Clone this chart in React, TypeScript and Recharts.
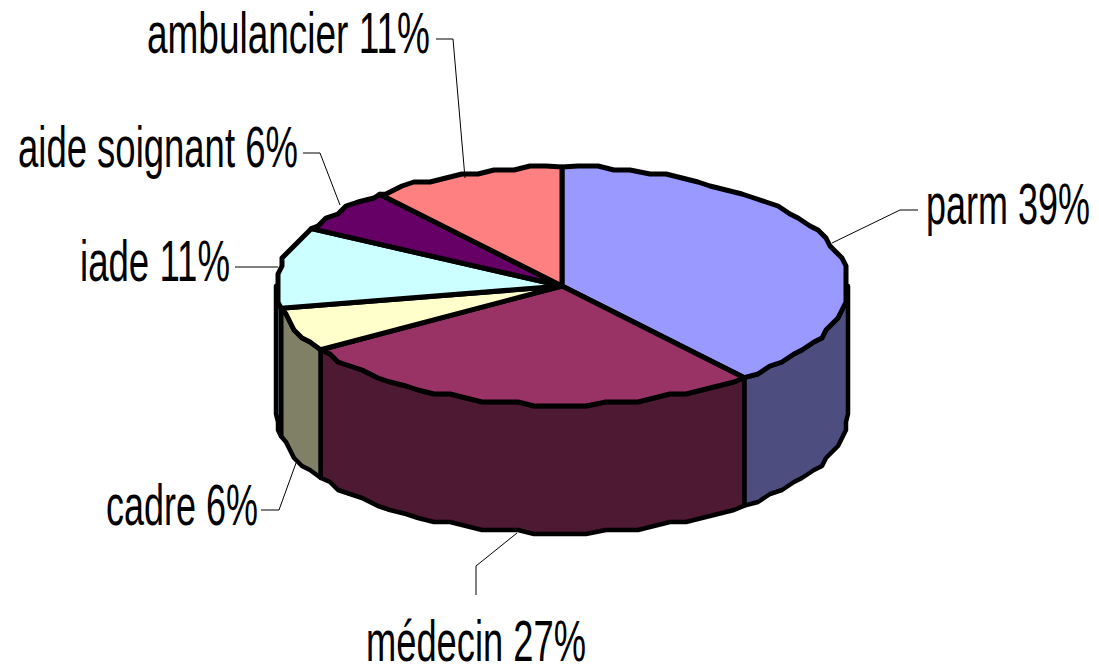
import { PieChart, Pie } from "recharts";

const categories = ["parm", "médecin", "cadre", "iade", "aide soignant", "ambulancier"];
const shares = [39, 27, 6, 11, 6, 11];
const topColors = ["#9999ff", "#993366", "#ffffcc", "#ccffff", "#660066", "#ff8080"];
const sideColors = ["#4d4d80", "#4d1933", "#808066", "#668080", "#330033", "#804040"];

const rows = categories.map((name, i) => ({ name, value: shares[i], fill: topColors[i] }));

// flattened disc: the pie is drawn as an ellipse with a visible rim
const TILT = 119 / 286;
const DEPTH = 128;
const SNAP = 4; // the reference outline is slightly stepped
const STEP = 3.5;
const FONT = "Liberation Sans";
const FONT_SIZE = 58;

// label placement, by slice: text box + leader line
const labelLayout = [
  { x: 926, y: 224, w: 164, line: "832,243 900,210 918,210" },
  { x: 366, y: 661, w: 220, line: "476,595 476,566 517,533" },
  { x: 106, y: 525, w: 152, line: "261,510 279,510 296,463" },
  { x: 80, y: 281, w: 150, line: "235,267 278,267" },
  { x: 18, y: 167, w: 280, line: "303,153 320,153 340,205" },
  { x: 147, y: 53, w: 283, line: "436,39 453,39 465,178" },
];

const measure = (text: string) => {
  const ctx = document.createElement("canvas").getContext("2d");
  if (!ctx) return 1;
  ctx.font = `${FONT_SIZE}px "${FONT}"`;
  return ctx.measureText(text).width;
};

const rimPoint = (cx: number, cy: number, r: number, clock: number, snap = true) => {
  const rad = (clock * Math.PI) / 180;
  const x = cx + r * Math.sin(rad);
  const y = cy - r * TILT * Math.cos(rad);
  if (!snap) return [x, y];
  return [Math.round((x - cx) / SNAP) * SNAP + cx, Math.round((y - cy) / SNAP) * SNAP + cy];
};

const rimPath = (cx: number, cy: number, r: number, from: number, to: number) => {
  const pts = [rimPoint(cx, cy, r, from, false)];
  for (let a = Math.ceil(from / STEP + 0.3) * STEP; a < to - 1; a += STEP) {
    pts.push(rimPoint(cx, cy, r, a));
  }
  pts.push(rimPoint(cx, cy, r, to, false));
  return pts;
};

const toPath = (pts: number[][]) => pts.map((p, i) => `${i ? "L" : "M"}${p[0]} ${p[1]}`).join(" ");

const renderSlice = (props: any, i: number) => {
  const { cx, cy, outerRadius, startAngle, endAngle, fill } = props;
  const from = 90 - startAngle;
  const to = 90 - endAngle;
  const rim = rimPath(cx, cy, outerRadius, from, to);
  const sideFrom = Math.max(from, 90);
  const sideTo = Math.min(to, 270);
  let side = null;
  if (sideTo > sideFrom) {
    const front = rimPath(cx, cy, outerRadius, sideFrom, sideTo);
    const back = [...front].reverse().map((p) => [p[0], p[1] + DEPTH]);
    side = (
      <path
        d={`${toPath(front)} ${toPath(back).replace("M", "L")} Z`}
        fill={sideColors[i]}
        stroke="#000"
        strokeWidth={4.5}
        strokeLinejoin="round"
      />
    );
  }
  return (
    <g>
      {side}
      <path
        d={`M${cx} ${cy} ${toPath(rim).replace("M", "L")} Z`}
        fill={fill}
        stroke="#000"
        strokeWidth={5}
        strokeLinejoin="round"
      />
    </g>
  );
};

const renderLabel = (props: any) => {
  const { index, name, value } = props;
  const l = labelLayout[index];
  const text = `${name} ${value}%`;
  const scale = l.w / measure(text);
  return (
    <g>
      <polyline points={l.line} fill="none" stroke="#000" strokeWidth={1} />
      <text
        transform={`translate(${l.x} ${l.y}) scale(${scale} 1)`}
        fontFamily={FONT}
        fontSize={FONT_SIZE}
        fill="#000"
      >
        {text}
      </text>
    </g>
  );
};

export default function App() {
  return (
    <div style={{ position: "absolute", left: 0, top: 0, width: 1099, height: 667, background: "#fff" }}>
      <PieChart width={1099} height={667} margin={{ top: 0, right: 0, bottom: 0, left: 0 }}>
        <Pie
          data={rows}
          dataKey="value"
          nameKey="name"
          cx={562}
          cy={286}
          innerRadius={0}
          outerRadius={286}
          startAngle={90}
          endAngle={-270}
          shape={renderSlice}
          label={renderLabel}
          labelLine={false}
          isAnimationActive={false}
        />
      </PieChart>
    </div>
  );
}
